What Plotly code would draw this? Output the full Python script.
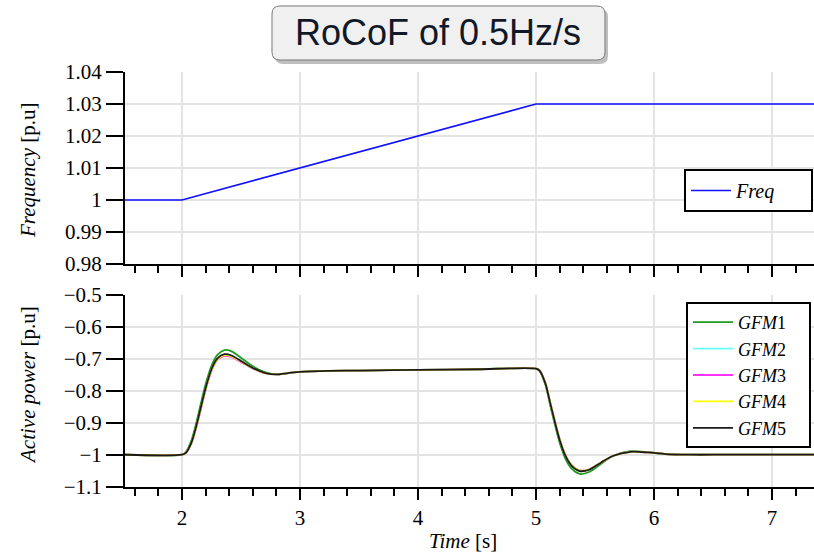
import plotly.graph_objects as go

W, H = 814, 554

# ---------------- data ----------------
t_freq = [1.5, 2.0, 5.0, 7.4]
freq = [1.0, 1.0, 1.03, 1.03]

t = [1.5, 2.0, 2.03, 2.08, 2.12, 2.16, 2.20, 2.25, 2.30, 2.36,
     2.42, 2.50, 2.60, 2.70, 2.80, 2.90, 3.00, 3.25, 3.50, 4.00,
     4.50, 5.00, 5.03, 5.08, 5.12, 5.16, 5.20, 5.25, 5.30, 5.37,
     5.45, 5.55, 5.65, 5.80, 5.95, 6.10, 6.30, 6.60, 7.00, 7.40]

gfm1 = [-1.0, -1.0, -0.993, -0.955, -0.902, -0.840, -0.780, -0.722, -0.688, -0.673,
        -0.677, -0.697, -0.724, -0.742, -0.749, -0.745, -0.741, -0.738, -0.737, -0.735,
        -0.733, -0.731, -0.738, -0.782, -0.845, -0.906, -0.962, -1.013, -1.043, -1.060,
        -1.054, -1.029, -1.004, -0.989, -0.992, -0.998, -1.0, -1.0, -1.0, -1.0]
gfm2 = [-1.0, -1.0, -0.995, -0.963, -0.914, -0.854, -0.794, -0.735, -0.701, -0.688,
        -0.692, -0.708, -0.730, -0.744, -0.749, -0.745, -0.741, -0.738, -0.737, -0.735,
        -0.733, -0.731, -0.737, -0.777, -0.837, -0.897, -0.952, -1.003, -1.033, -1.050,
        -1.047, -1.025, -1.004, -0.991, -0.993, -0.998, -1.0, -1.0, -1.0, -1.0]
gfm3 = [-1.0, -1.0, -0.996, -0.965, -0.917, -0.858, -0.798, -0.738, -0.704, -0.691,
        -0.695, -0.711, -0.731, -0.745, -0.749, -0.745, -0.741, -0.738, -0.737, -0.735,
        -0.733, -0.731, -0.736, -0.776, -0.835, -0.895, -0.950, -1.001, -1.031, -1.049,
        -1.046, -1.025, -1.004, -0.991, -0.993, -0.998, -1.0, -1.0, -1.0, -1.0]
gfm4 = [-1.0, -1.0, -0.995, -0.964, -0.915, -0.856, -0.796, -0.736, -0.702, -0.689,
        -0.693, -0.709, -0.730, -0.745, -0.749, -0.745, -0.741, -0.738, -0.737, -0.735,
        -0.733, -0.731, -0.737, -0.777, -0.836, -0.896, -0.951, -1.002, -1.032, -1.050,
        -1.046, -1.025, -1.004, -0.991, -0.993, -0.998, -1.0, -1.0, -1.0, -1.0]
gfm5 = [-1.0, -1.0, -0.995, -0.962, -0.912, -0.852, -0.792, -0.733, -0.699, -0.686,
        -0.690, -0.707, -0.729, -0.744, -0.749, -0.745, -0.741, -0.738, -0.737, -0.735,
        -0.733, -0.731, -0.737, -0.778, -0.838, -0.898, -0.953, -1.004, -1.034, -1.051,
        -1.047, -1.025, -1.004, -0.991, -0.993, -0.998, -1.0, -1.0, -1.0, -1.0]

gfm_names = ["<i>GFM</i>1", "<i>GFM</i>2", "<i>GFM</i>3", "<i>GFM</i>4", "<i>GFM</i>5"]
gfm_colors = ["#1f9a1f", "#66ffff", "#ff33ff", "#ffff00", "#1a1a1a"]

freq_ticks = [0.98, 0.99, 1.0, 1.01, 1.02, 1.03, 1.04]
freq_ticktext = ["0.98", "0.99", "1", "1.01", "1.02", "1.03", "1.04"]
p_ticks = [-1.1, -1.0, -0.9, -0.8, -0.7, -0.6, -0.5]
p_ticktext = ["\u22121.1", "\u22121", "\u22120.9", "\u22120.8", "\u22120.7", "\u22120.6", "\u22120.5"]
x_ticks = [2, 3, 4, 5, 6, 7]
x_ticktext = ["2", "3", "4", "5", "6", "7"]

title_text = "RoCoF of 0.5Hz/s"

# ---------------- helpers (pixel -> paper) ----------------
def px(x):
    return x / W

def py(y):
    return 1 - y / H

def rrect(x0, y0, x1, y1, r):
    pts = [
        ("M", [(x0 + r, y0)]),
        ("L", [(x1 - r, y0)]),
        ("Q", [(x1, y0), (x1, y0 + r)]),
        ("L", [(x1, y1 - r)]),
        ("Q", [(x1, y1), (x1 - r, y1)]),
        ("L", [(x0 + r, y1)]),
        ("Q", [(x0, y1), (x0, y1 - r)]),
        ("L", [(x0, y0 + r)]),
        ("Q", [(x0, y0), (x0 + r, y0)]),
    ]
    s = ""
    for cmd, ps in pts:
        s += cmd + " " + " ".join(f"{px(a):.5f},{py(b):.5f}" for a, b in ps) + " "
    return s + "Z"

FONT_SERIF = "Liberation Serif"
TICKFONT = dict(family=FONT_SERIF, size=21, color="black")
PAD_TOP = "\u00a0" * 6
PAD_BOT = "\u00a0" * 4

x_left = 125
top_y0, top_y1 = 72, 264
bot_y0, bot_y1 = 294.7, 486.7

fig = go.Figure()

fig.add_trace(go.Scatter(x=t_freq, y=freq, mode="lines", name="<i>Freq</i>" + PAD_TOP,
                         line=dict(color="#1010ff", width=1.7),
                         xaxis="x", yaxis="y", legend="legend"))

for name, col, vals in zip(gfm_names, gfm_colors, [gfm1, gfm2, gfm3, gfm4, gfm5]):
    fig.add_trace(go.Scatter(x=t, y=vals, mode="lines", name=name + PAD_BOT,
                             line=dict(color=col, width=1.8, shape="spline", smoothing=0.8),
                             xaxis="x2", yaxis="y2", legend="legend2"))

xrange = [1.517, 7.356]
common_x = dict(
    range=xrange, domain=[px(x_left), 1.0],
    tickvals=x_ticks, ticks="outside", ticklen=11, tickwidth=2, tickcolor="black",
    showline=True, linecolor="black", linewidth=2,
    showgrid=True, gridcolor="#e3e3e3", gridwidth=1.5,
    zeroline=False, tickfont=TICKFONT, automargin=False,
    minor=dict(dtick=0.2, tick0=0, ticks="outside", ticklen=7, tickwidth=1.5,
               tickcolor="black", showgrid=False),
)
common_y = dict(
    ticks="outside", ticklen=17, tickwidth=2, tickcolor="black",
    showline=True, linecolor="black", linewidth=2,
    showgrid=True, gridcolor="#e3e3e3", gridwidth=1.5,
    zeroline=False, tickfont=TICKFONT, automargin=False,
)

fig.update_layout(
    width=W, height=H,
    margin=dict(l=0, r=0, t=0, b=0, autoexpand=False),
    paper_bgcolor="white", plot_bgcolor="white",
    showlegend=True,
    xaxis=dict(common_x, anchor="y", showticklabels=False),
    yaxis=dict(common_y, domain=[py(top_y1), py(top_y0)], range=[0.98, 1.04],
               tickvals=freq_ticks, ticktext=freq_ticktext, anchor="x"),
    xaxis2=dict(common_x, anchor="y2", ticktext=x_ticktext, showticklabels=True),
    yaxis2=dict(common_y, domain=[py(bot_y1), py(bot_y0)], range=[-1.1, -0.5],
                tickvals=p_ticks, ticktext=p_ticktext, anchor="x2"),
    legend=dict(x=px(684), y=py(169), xanchor="left", yanchor="top",
                bgcolor="white", bordercolor="black", borderwidth=2,
                font=dict(family=FONT_SERIF, size=20, color="black"),
                itemwidth=40, tracegroupgap=0),
    legend2=dict(x=px(686), y=py(302), xanchor="left", yanchor="top",
                 bgcolor="white", bordercolor="black", borderwidth=2,
                 font=dict(family=FONT_SERIF, size=18, color="black"),
                 itemwidth=40, tracegroupgap=0),
)

# title box with shadow
fig.add_shape(type="path", path=rrect(275, 9, 608, 64, 8), xref="paper", yref="paper",
              fillcolor="rgba(0,0,0,0.25)", line=dict(width=0), layer="above")
fig.add_shape(type="path", path=rrect(272, 6, 605, 60, 8), xref="paper", yref="paper",
              fillcolor="#f0f0f0", line=dict(color="#7a7a7a", width=1), layer="above")
fig.add_annotation(text=title_text, x=px(438), y=py(33), xref="paper", yref="paper",
                   xanchor="center", yanchor="middle", showarrow=False,
                   font=dict(family="Liberation Sans", size=36, color="#111827"))

# axis titles
fig.add_annotation(text="<i>Frequency</i> [p.u]", x=px(28), y=py(170), xref="paper", yref="paper",
                   textangle=-90, showarrow=False, xanchor="center", yanchor="middle",
                   font=dict(family=FONT_SERIF, size=21, color="black"))
fig.add_annotation(text="<i>Active power</i> [p.u]", x=px(28), y=py(385), xref="paper", yref="paper",
                   textangle=-90, showarrow=False, xanchor="center", yanchor="middle",
                   font=dict(family=FONT_SERIF, size=21, color="black"))
fig.add_annotation(text="<i>Time</i> [s]", x=px(463), y=py(541), xref="paper", yref="paper",
                   showarrow=False, xanchor="center", yanchor="middle",
                   font=dict(family=FONT_SERIF, size=21, color="black"))

fig.write_html("out.html")
